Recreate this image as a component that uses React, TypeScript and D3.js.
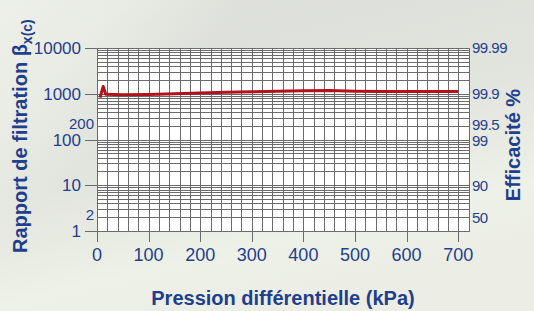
import React from "react";
import { scaleLinear, scaleLog, line, range } from "d3";

// pressure (kPa) and filtration ratio
const pressure = [6, 12, 17, 50, 100, 150, 200, 250, 300, 350, 400, 450, 500, 550, 600, 650, 700];
const beta = [820, 1440, 980, 950, 965, 995, 1040, 1075, 1105, 1135, 1165, 1180, 1140, 1120, 1120, 1120, 1120];

const xTicks = [0, 100, 200, 300, 400, 500, 600, 700];
const yMajor = [1, 10, 100, 1000, 10000];
const yMajorLabels = ["1", "10", "100", "1000", "10000"];
const yMinorLabelled = [2, 200];
const effValues = [10000, 1000, 200, 100, 10, 2];
const effLabels = ["99.99", "99.9", "99.5", "99", "90", "50"];

const W = 534;
const H = 311;
const blue = "#1e3f8e";
const grid = "#6b6b6b";
const font = "'Liberation Sans', Arial, sans-serif";

export default function App() {
  const x = scaleLinear().domain([0, 720]).range([97, 468.5]);
  const y = scaleLog().domain([1, 10000]).range([231, 48]);

  const vLines = range(0, 721, 20);
  const hLines: number[] = [];
  [1, 10, 100, 1000].forEach((d) => {
    for (let k = 1; k < 10; k++) hLines.push(k * d);
  });
  hLines.push(10000);

  const path = line<number>()
    .x((d, i) => x(pressure[i]))
    .y((d) => y(d))(beta);

  const crisp = (v: number) => Math.round(v) + 0.5;
  const [x0, x1] = x.range();
  const [y0, y1] = y.range();

  // 99.5 and 99 sit very close, nudge them apart a little
  const effNudge = (v: number) => (v === 200 ? -1.5 : v === 100 ? 1.5 : 0);

  return (
    <div style={{ position: "absolute", left: 0, top: 0 }}>
      <svg width={W} height={H} style={{ display: "block" }}>
        <defs>
          <linearGradient id="bg" x1="0" y1="0" x2="0.4" y2="1">
            <stop offset="0" stopColor="#dcddd8" />
            <stop offset="0.55" stopColor="#e2e4de" />
            <stop offset="0.85" stopColor="#eef1e7" />
            <stop offset="1" stopColor="#eceee6" />
          </linearGradient>
          <linearGradient id="band" x1="0" y1="0" x2="1" y2="0.6">
            <stop offset="0" stopColor="#f4f7ef" stopOpacity="0.7" />
            <stop offset="0.18" stopColor="#f4f7ef" stopOpacity="0.5" />
            <stop offset="0.35" stopColor="#f4f7ef" stopOpacity="0" />
          </linearGradient>
        </defs>
        <rect width={W} height={H} fill="url(#bg)" />
        <rect width={W} height={H} fill="url(#band)" />

        <rect x={crisp(x0)} y={crisp(y1)} width={Math.round(x1 - x0)} height={Math.round(y0 - y1)} fill="#fff" />

        {vLines.map((v) => (
          <line key={"v" + v} x1={crisp(x(v))} x2={crisp(x(v))} y1={crisp(y1)} y2={crisp(y0)} stroke={grid} strokeWidth={1} />
        ))}
        {hLines.map((v) => (
          <line key={"h" + v} x1={crisp(x0)} x2={crisp(x1)} y1={crisp(y(v))} y2={crisp(y(v))} stroke={grid} strokeWidth={1} />
        ))}
        <line x1={crisp(x1)} x2={crisp(x1)} y1={crisp(y1)} y2={crisp(y0)} stroke={grid} />

        {/* left ticks + labels */}
        {yMajor.map((v, i) => (
          <g key={"ly" + v}>
            <line x1={85} x2={crisp(x0)} y1={crisp(y(v))} y2={crisp(y(v))} stroke={grid} />
            <text x={81} y={y(v)} dy="0.36em" textAnchor="end" fontSize={17} fill={blue} fontFamily={font}>
              {yMajorLabels[i]}
            </text>
          </g>
        ))}
        {yMinorLabelled.map((v) => (
          <text key={"lm" + v} x={94} y={y(v)} dy="0.2em" textAnchor="end" fontSize={15} fill={blue} fontFamily={font}>
            {v}
          </text>
        ))}

        {/* right efficiency labels */}
        {effValues.map((v, i) => (
          <text key={"r" + v} x={472} y={y(v) + effNudge(v)} dy="0.36em" fontSize={15} letterSpacing={-0.5} fill={blue} fontFamily={font}>
            {effLabels[i]}
          </text>
        ))}

        {/* bottom ticks + labels */}
        {xTicks.map((v) => (
          <g key={"bx" + v}>
            <line x1={crisp(x(v))} x2={crisp(x(v))} y1={crisp(y0)} y2={242} stroke={grid} />
            <text x={x(v)} y={255} dy="0.36em" textAnchor="middle" fontSize={18} fill={blue} fontFamily={font}>
              {v}
            </text>
          </g>
        ))}

        <path d={path ?? ""} fill="none" stroke="#b3121c" strokeWidth={3} strokeLinejoin="round" />

        {/* titles */}
        <text x={283} y={305} textAnchor="middle" fontSize={20} fontWeight="bold" fill={blue} fontFamily={font}>
          Pression différentielle (kPa)
        </text>
        <text transform="translate(27,253) rotate(-90)" fontSize={20} fontWeight="bold" fill={blue} fontFamily={font}>
          Rapport de filtration β
          <tspan fontSize={14} dy={5}>x(c)</tspan>
        </text>
        <text transform="translate(520,145) rotate(-90)" textAnchor="middle" fontSize={20} fontWeight="bold" fill={blue} fontFamily={font}>
          Efficacité %
        </text>
      </svg>
    </div>
  );
}
